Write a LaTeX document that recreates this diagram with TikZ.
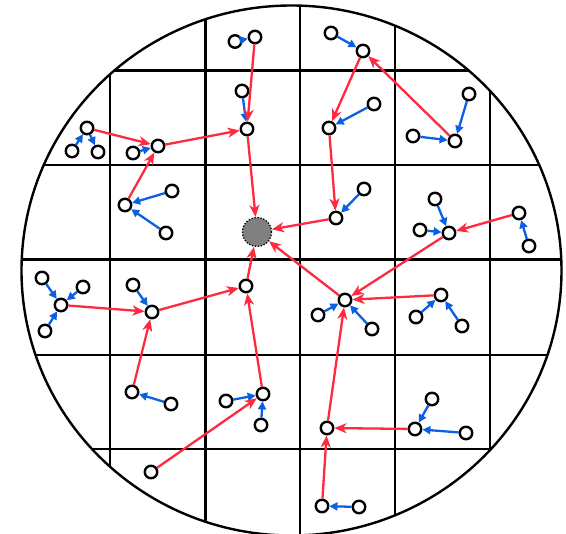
\documentclass[tikz,border=0pt]{standalone}
\usepackage{xcolor}
\usetikzlibrary{arrows.meta}
\definecolor{myred}{RGB}{255, 42, 64}
\definecolor{myblue}{RGB}{11, 95, 227}
\definecolor{mygray}{RGB}{128, 128, 128}

\begin{document}
\begin{tikzpicture}[x=1pt, y=-1pt,
  sensor/.style={circle, draw, fill=white, line width=2.4pt, minimum size=12.5pt, inner sep=0pt},
  sink/.style={circle, draw, fill=mygray, line width=1.3pt, dash pattern=on 1.3pt off 1.7pt, minimum size=29pt, inner sep=0pt},
  rhop/.style={-{Stealth[length=12pt, width=10pt, inset=3.5pt]}, line width=2.3pt, color=myred},
  clink/.style={-{Triangle[length=8pt, width=8pt]}, line width=2.3pt, color=myblue}]
\useasboundingbox (0,0) rectangle (566,534);

 %wafer grid
 \begin{scope}
 \clip (291.5,270.5) ellipse [x radius=270, y radius=265];
 \draw[line width=2.4pt] (110,0) -- (110,540);
 \draw[line width=2.4pt] (205.5,0) -- (205.5,540);
 \draw[line width=2.4pt] (300,0) -- (300,540);
 \draw[line width=2.4pt] (395,0) -- (395,540);
 \draw[line width=2.4pt] (490,0) -- (490,540);
 \draw[line width=2.4pt] (0,70.5) -- (570,70.5);
 \draw[line width=2.4pt] (0,165) -- (570,165);
 \draw[line width=2.4pt] (0,259.5) -- (570,259.5);
 \draw[line width=2.4pt] (0,355) -- (570,355);
 \draw[line width=2.4pt] (0,449.3) -- (570,449.3);
 \end{scope}
 \draw[line width=2.4pt] (291.5,270.5) ellipse [x radius=270, y radius=265];

 %base station
 \node[sink] (BS) at (257,232) {};

 %sensors
 \node[sensor] (A1) at (235,41.5) {};
 \node[sensor] (A2) at (255,37) {};
 \node[sensor] (B0) at (242,91) {};
 \node[sensor] (B1) at (247,129) {};
 \node[sensor] (C1) at (87,128) {};
 \node[sensor] (C2) at (72,151) {};
 \node[sensor] (C3) at (98,152) {};
 \node[sensor] (D0) at (133,153) {};
 \node[sensor] (D1) at (158,146) {};
 \node[sensor] (E1) at (125,205) {};
 \node[sensor] (E2) at (172,191) {};
 \node[sensor] (E3) at (166,233) {};
 \node[sensor] (F0) at (331,33) {};
 \node[sensor] (F1) at (363,51) {};
 \node[sensor] (G0) at (413,136) {};
 \node[sensor] (G1) at (455,141) {};
 \node[sensor] (G2) at (469,94) {};
 \node[sensor] (H0) at (374,104) {};
 \node[sensor] (H1) at (329,128) {};
 \node[sensor] (I0) at (364,189) {};
 \node[sensor] (I1) at (336,218) {};
 \node[sensor] (J0) at (420,230) {};
 \node[sensor] (J1) at (449,233) {};
 \node[sensor] (J2) at (435,199) {};
 \node[sensor] (K0) at (529,246) {};
 \node[sensor] (K1) at (519,213) {};
 \node[sensor] (L0) at (318,315) {};
 \node[sensor] (L1) at (345,300) {};
 \node[sensor] (L2) at (372,329) {};
 \node[sensor] (M0) at (416,317) {};
 \node[sensor] (M1) at (441,295) {};
 \node[sensor] (M2) at (462,326) {};
 \node[sensor] (N1) at (327,428) {};
 \node[sensor] (P0) at (42,278) {};
 \node[sensor] (P1) at (61,305) {};
 \node[sensor] (P2) at (83,287) {};
 \node[sensor] (P3) at (45,331) {};
 \node[sensor] (Q0) at (133,285) {};
 \node[sensor] (Q1) at (152,312) {};
 \node[sensor] (R1) at (246,286) {};
 \node[sensor] (S0) at (171,404) {};
 \node[sensor] (S1) at (132,392) {};
 \node[sensor] (T0) at (226,401) {};
 \node[sensor] (T1) at (263,394) {};
 \node[sensor] (T2) at (261,425) {};
 \node[sensor] (U1) at (151,472) {};
 \node[sensor] (V0) at (432,399) {};
 \node[sensor] (V1) at (415,429) {};
 \node[sensor] (V2) at (466,433) {};
 \node[sensor] (W0) at (359,507) {};
 \node[sensor] (W1) at (322,506) {};

 %cluster links
 \draw[clink] (A1) -- (A2);
 \draw[clink] (B0) -- (B1);
 \draw[clink] (C2) -- (C1);
 \draw[clink] (C1) -- (C3);
 \draw[clink] (D0) -- (D1);
 \draw[clink] (E2) -- (E1);
 \draw[clink] (E3) -- (E1);
 \draw[clink] (F0) -- (F1);
 \draw[clink] (G0) -- (G1);
 \draw[clink] (G2) -- (G1);
 \draw[clink] (H0) -- (H1);
 \draw[clink] (I0) -- (I1);
 \draw[clink] (J0) -- (J1);
 \draw[clink] (J2) -- (J1);
 \draw[clink] (K0) -- (K1);
 \draw[clink] (L0) -- (L1);
 \draw[clink] (L2) -- (L1);
 \draw[clink] (M0) -- (M1);
 \draw[clink] (M2) -- (M1);
 \draw[clink] (P0) -- (P1);
 \draw[clink] (P2) -- (P1);
 \draw[clink] (P3) -- (P1);
 \draw[clink] (Q0) -- (Q1);
 \draw[clink] (S0) -- (S1);
 \draw[clink] (T0) -- (T1);
 \draw[clink] (T2) -- (T1);
 \draw[clink] (V0) -- (V1);
 \draw[clink] (V2) -- (V1);
 \draw[clink] (W0) -- (W1);

 %multihop routes
 \draw[rhop] (A2) -- (B1);
 \draw[rhop] (C1) -- (D1);
 \draw[rhop] (E1) -- (D1);
 \draw[rhop] (D1) -- (B1);
 \draw[rhop] (B1) -- (BS);
 \draw[rhop] (G1) -- (F1);
 \draw[rhop] (F1) -- (H1);
 \draw[rhop] (H1) -- (I1);
 \draw[rhop] (I1) -- (BS);
 \draw[rhop] (K1) -- (J1);
 \draw[rhop] (J1) -- (L1);
 \draw[rhop] (M1) -- (L1);
 \draw[rhop] (N1) -- (L1);
 \draw[rhop] (L1) -- (BS);
 \draw[rhop] (P1) -- (Q1);
 \draw[rhop] (S1) -- (Q1);
 \draw[rhop] (Q1) -- (R1);
 \draw[rhop] (T1) -- (R1);
 \draw[rhop] (U1) -- (T1);
 \draw[rhop] (R1) -- (BS);
 \draw[rhop] (V1) -- (N1);
 \draw[rhop] (W1) -- (N1);
\end{tikzpicture}
\end{document}
